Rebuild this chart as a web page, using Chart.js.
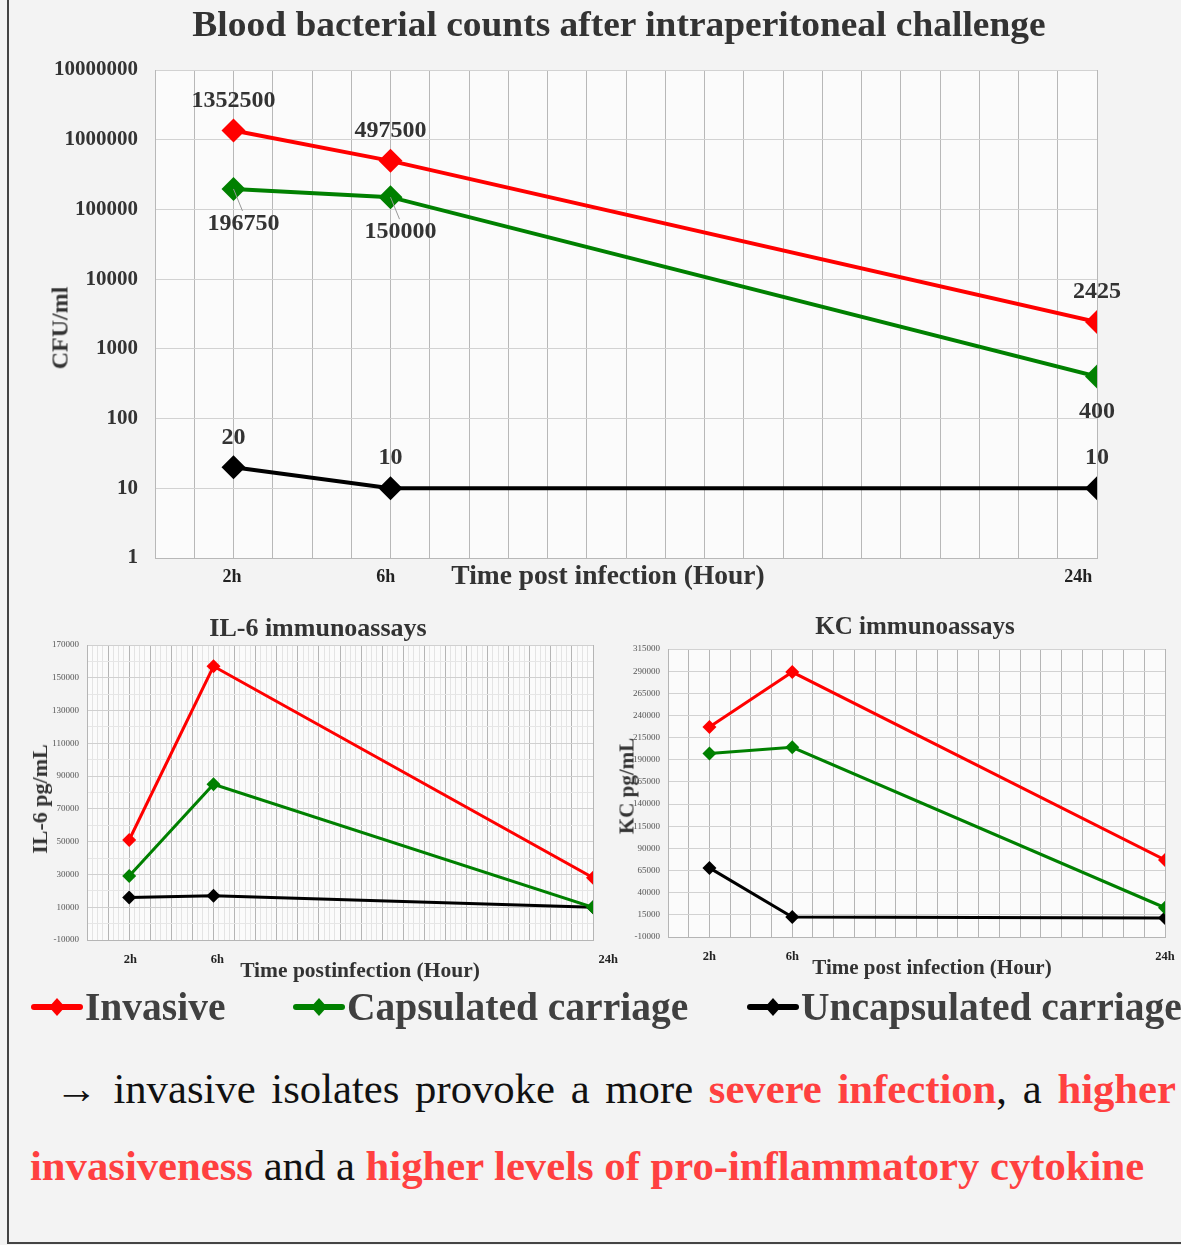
<!DOCTYPE html>
<html>
<head>
<meta charset="utf-8">
<script src="https://cdn.jsdelivr.net/npm/chart.js@4.4.0/dist/chart.umd.min.js"></script>
<style>
body { margin: 0; width: 1181px; height: 1245px; background: #f3f3f3; position: relative; overflow: hidden;
       font-family: 'Liberation Serif', 'Times New Roman', serif; color: #333; }
canvas { position: absolute; }
.t { position: absolute; transform: translate(-50%, -50%); white-space: nowrap; font-weight: bold; color: #333; }
.v { transform: translate(-50%, -50%) rotate(-90deg); }
.frame { position: absolute; background: #444; }
#legend { position: absolute; left: 30px; top: 984px; height: 46px; width: 1160px; font-weight: bold; font-size: 39.5px; color: #404040; white-space: nowrap; }
#legend .item { position: absolute; top: 0; display: flex; align-items: center; height: 46px; }
#legend svg { margin-right: 1px; }
#para { position: absolute; left: 30px; top: 1050px; width: 1146px; font-size: 42.7px; line-height: 77px; color: #111;
        text-align: justify; text-align-last: left; }
#para b { color: #ff4040; }
</style>
</head>
<body>
<div class="frame" style="left:7px;top:0;width:2px;height:1244px"></div>
<div class="frame" style="left:7px;top:1242px;width:1174px;height:2px"></div>

<canvas id="cfu" width="1181" height="600" style="left:0;top:0"></canvas>
<canvas id="il6" width="630" height="390" style="left:0;top:600px"></canvas>
<canvas id="kc" width="581" height="390" style="left:600px;top:600px"></canvas>

<div class="t" style="left:619px;top:25px;font-size:35px;transform:translate(-50%,-50%) scaleX(1.07)">Blood bacterial counts after intraperitoneal challenge</div>
<div class="t v" style="left:60px;top:328px;font-size:24px">CFU/ml</div>
<div class="t" style="left:608px;top:575px;font-size:27.5px">Time post infection (Hour)</div>

<div class="t" style="left:318px;top:628px;font-size:26px">IL-6 immunoassays</div>
<div class="t v" style="left:40px;top:799px;font-size:22px">IL-6 pg/mL</div>
<div class="t" style="left:360px;top:970px;font-size:21.5px">Time postinfection (Hour)</div>

<div class="t" style="left:915px;top:626px;font-size:25px">KC immunoassays</div>
<div class="t v" style="left:627px;top:786px;font-size:21px">KC pg/mL</div>
<div class="t" style="left:932px;top:967px;font-size:21px">Time post infection (Hour)</div>

<div id="legend"></div>

<div id="para"><span style="padding-left:25px">→</span> invasive isolates provoke a more <b>severe infection</b>, a <b>higher</b> <b>invasiveness</b> and a <b>higher levels of pro-inflammatory cytokine</b></div>

<script>
// values
const hours = [2, 6, 24];
const hourLabels = ['2h', '6h', '24h'];
const seriesNames = ['Invasive', 'Capsulated carriage', 'Uncapsulated carriage'];

const cfuInvasive = [1352500, 497500, 2425];
const cfuCapsulated = [196750, 150000, 400];
const cfuUncapsulated = [20, 10, 10];
const cfuTicks = [1, 10, 100, 1000, 10000, 100000, 1000000, 10000000];

const il6Invasive = [51000, 157000, 28000];
const il6Capsulated = [29000, 85000, 10000];
const il6Uncapsulated = [16000, 17000, 10000];

const kcInvasive = [227000, 289000, 77000];
const kcCapsulated = [197000, 204000, 23000];
const kcUncapsulated = [68000, 12500, 11500];

const colors = ['#ff0000', '#008000', '#000000'];
const serif = "'Liberation Serif', 'Times New Roman', serif";

function pts(vals) {
    return vals.map((v, i) => ({ x: hours[i], y: v }));
}

function makeDatasets(seriesList, lineW, radius, labelPos) {
    return seriesList.map((vals, i) => ({
        label: seriesNames[i],
        data: pts(vals),
        borderColor: colors[i],
        backgroundColor: colors[i],
        borderWidth: lineW,
        pointStyle: 'rectRot',
        pointRadius: radius,
        pointBorderWidth: 0,
        tension: 0,
        labelPos: labelPos ? labelPos[i] : null
    }));
}

// light plot background
const plotBg = {
    id: 'plotBg',
    beforeDraw(chart) {
        const a = chart.chartArea;
        chart.ctx.save();
        chart.ctx.fillStyle = '#fbfbfb';
        chart.ctx.fillRect(a.left, a.top, a.right - a.left, a.bottom - a.top);
        chart.ctx.restore();
    }
};

// hour labels under the x axis (slightly spread like the original)
const hourTicks = {
    id: 'hourTicks',
    afterDraw(chart, args, opts) {
        const xs = chart.scales.x;
        const ctx = chart.ctx;
        ctx.save();
        ctx.font = 'bold ' + opts.size + 'px ' + serif;
        ctx.fillStyle = '#222';
        ctx.textAlign = 'center';
        ctx.textBaseline = 'middle';
        hours.forEach((h, i) => {
            const px = xs.left + (xs.getPixelForValue(h) - xs.left) * opts.stretch;
            ctx.fillText(hourLabels[i], px, chart.chartArea.bottom + opts.gap);
        });
        ctx.restore();
    }
};

// value labels next to the markers (top chart only)
const pointLabels = {
    id: 'pointLabels',
    afterDatasetsDraw(chart) {
        const ctx = chart.ctx;
        ctx.save();
        ctx.font = 'bold 24px ' + serif;
        ctx.fillStyle = '#333';
        ctx.textAlign = 'center';
        ctx.textBaseline = 'middle';
        chart.data.datasets.forEach((ds, i) => {
            const meta = chart.getDatasetMeta(i);
            meta.data.forEach((pt, j) => {
                const last = j === meta.data.length - 1;
                if (ds.labelPos === 'below') {
                    if (!last) {
                        ctx.strokeStyle = '#999';
                        ctx.lineWidth = 1;
                        ctx.beginPath();
                        ctx.moveTo(pt.x, pt.y);
                        ctx.lineTo(pt.x + 9, pt.y + 22);
                        ctx.stroke();
                    }
                    ctx.fillText(ds.data[j].y, pt.x + (last ? 0 : 10), pt.y + 35);
                } else {
                    ctx.fillText(ds.data[j].y, pt.x, pt.y - 30);
                }
            });
        });
        ctx.restore();
    }
};

Chart.defaults.animation = false;
Chart.defaults.devicePixelRatio = 1;
Chart.defaults.font.family = serif;

new Chart(document.getElementById('cfu'), {
    type: 'line',
    data: { datasets: makeDatasets([cfuInvasive, cfuCapsulated, cfuUncapsulated], 4, 12, ['above', 'below', 'above']) },
    plugins: [plotBg, hourTicks, pointLabels],
    options: {
        responsive: false,
        layout: { padding: { left: 0, right: 84, top: 70, bottom: 0 } },
        plugins: {
            legend: { display: false }, tooltip: { enabled: false },
            hourTicks: { size: 18, gap: 19, stretch: 0.98 }
        },
        scales: {
            x: {
                type: 'linear', min: 0, max: 24,
                afterFit: s => { s.height = 42; },
                grid: { color: '#b8b8b8', drawTicks: false },
                border: { color: '#b8b8b8' },
                ticks: { display: false, stepSize: 1, autoSkip: false }
            },
            y: {
                type: 'logarithmic', min: 1, max: 10000000,
                afterFit: s => { s.width = 155; },
                afterBuildTicks: s => { s.ticks = cfuTicks.map(v => ({ value: v })); },
                grid: { color: '#d2d2d2', drawTicks: false },
                border: { color: '#b8b8b8' },
                ticks: {
                    padding: 17, color: '#333', font: { size: 21, weight: 'bold' },
                    callback: v => String(v)
                }
            }
        }
    }
});

new Chart(document.getElementById('il6'), {
    type: 'line',
    data: { datasets: makeDatasets([il6Invasive, il6Capsulated, il6Uncapsulated], 3, 7) },
    plugins: [plotBg, hourTicks],
    options: {
        responsive: false,
        layout: { padding: { left: 0, right: 37, top: 45, bottom: 0 } },
        plugins: {
            legend: { display: false }, tooltip: { enabled: false },
            hourTicks: { size: 12.5, gap: 20, stretch: 1.03 }
        },
        scales: {
            x: {
                type: 'linear', min: 0, max: 24,
                afterFit: s => { s.height = 50; },
                grid: {
                    drawTicks: false,
                    color: c => Math.abs(c.tick.value - Math.round(c.tick.value)) < 1e-6 ? '#b5b5b5' : '#e4e4e4'
                },
                border: { color: '#b5b5b5' },
                ticks: { display: false, stepSize: 0.25, autoSkip: false }
            },
            y: {
                min: -10000, max: 170000,
                afterFit: s => { s.width = 87; },
                grid: {
                    drawTicks: false,
                    color: c => ((c.tick.value + 10000) % 20000 === 0) ? '#d0d0d0' : '#e6e6e6'
                },
                border: { color: '#b5b5b5' },
                ticks: {
                    stepSize: 10000, autoSkip: false, padding: 8,
                    color: '#555', font: { size: 9 },
                    callback: v => ((v + 10000) % 20000 === 0) ? String(v) : ''
                }
            }
        }
    }
});

new Chart(document.getElementById('kc'), {
    type: 'line',
    data: { datasets: makeDatasets([kcInvasive, kcCapsulated, kcUncapsulated], 3, 7) },
    plugins: [plotBg, hourTicks],
    options: {
        responsive: false,
        layout: { padding: { left: 0, right: 16, top: 49, bottom: 0 } },
        plugins: {
            legend: { display: false }, tooltip: { enabled: false },
            hourTicks: { size: 12.5, gap: 20, stretch: 1.0 }
        },
        scales: {
            x: {
                type: 'linear', min: 0, max: 24,
                afterFit: s => { s.height = 53; },
                grid: { color: '#b5b5b5', drawTicks: false },
                border: { color: '#b5b5b5' },
                ticks: { display: false, stepSize: 1, autoSkip: false }
            },
            y: {
                min: -10000, max: 315000,
                afterFit: s => { s.width = 68; },
                grid: { color: '#d2d2d2', drawTicks: false },
                border: { color: '#b5b5b5' },
                ticks: {
                    stepSize: 25000, autoSkip: false, padding: 8,
                    color: '#555', font: { size: 9 },
                    callback: v => String(v)
                }
            }
        }
    }
});

// legend built from the series names
const legendX = [0, 262, 716];
const legend = document.getElementById('legend');
seriesNames.forEach((name, i) => {
    const item = document.createElement('div');
    item.className = 'item';
    item.style.left = legendX[i] + 'px';
    item.innerHTML =
        '<svg width="54" height="24"><line x1="4" y1="12" x2="50" y2="12" stroke="' + colors[i] +
        '" stroke-width="6" stroke-linecap="round"/><path d="M27 3 L35 12 L27 21 L19 12 Z" fill="' + colors[i] +
        '"/></svg><span>' + name + '</span>';
    legend.appendChild(item);
});
</script>
</body>
</html>
